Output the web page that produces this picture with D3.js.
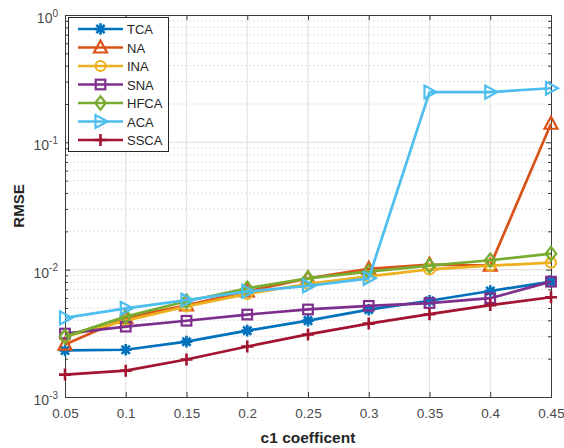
<!DOCTYPE html>
<html>
<head>
<meta charset="utf-8">
<script src="https://cdn.jsdelivr.net/npm/d3@7"></script>
<style>
  html, body { margin: 0; padding: 0; background: #fff; }
  svg { display: block; font-family: "Liberation Sans", Arial, sans-serif; }
</style>
</head>
<body>
<svg id="chart" width="564" height="448"></svg>
<script>
// c1 coefficient values on the x axis
const xValues = [0.05, 0.1, 0.15, 0.2, 0.25, 0.3, 0.35, 0.4, 0.45];
const xTickLabels = ["0.05", "0.1", "0.15", "0.2", "0.25", "0.3", "0.35", "0.4", "0.45"];
const yTickExponents = [-3, -2, -1, 0];

// RMSE per method
const seriesNames = ["TCA", "NA", "INA", "SNA", "HFCA", "ACA", "SSCA"];
const tca  = [0.00232, 0.00235, 0.00272, 0.00332, 0.00398, 0.00485, 0.00570, 0.00680, 0.00805];
const na   = [0.00258, 0.00418, 0.00525, 0.00675, 0.00855, 0.01015, 0.01095, 0.01075, 0.14000];
const ina  = [0.00298, 0.00398, 0.00515, 0.00645, 0.00775, 0.00885, 0.01005, 0.01075, 0.01135];
const sna  = [0.00315, 0.00357, 0.00397, 0.00444, 0.00487, 0.00520, 0.00547, 0.00597, 0.00805];
const hfca = [0.00298, 0.00428, 0.00565, 0.00715, 0.00855, 0.00965, 0.01075, 0.01185, 0.01335];
const aca  = [0.00418, 0.00497, 0.00576, 0.00675, 0.00745, 0.00855, 0.24800, 0.24800, 0.26600];
const ssca = [0.00150, 0.00161, 0.00197, 0.00249, 0.00310, 0.00377, 0.00447, 0.00527, 0.00607];

const seriesValues = [tca, na, ina, sna, hfca, aca, ssca];
const seriesColors = ["#0072BD", "#D95319", "#EDB120", "#7E2F8E", "#77AC30", "#4DBEEE", "#A2142F"];
const seriesMarkers = ["asterisk", "triangleUp", "circle", "square", "diamond", "triangleRight", "plus"];

const svg = d3.select("#chart");
const plotLeft = 65, plotRight = 551, plotTop = 15, plotBottom = 397;

const x = d3.scaleLinear().domain([0.05, 0.45]).range([plotLeft, plotRight]);
const y = d3.scaleLog().domain([1e-3, 1]).range([plotBottom, plotTop]);

const axisColor = "#3a3a3a";
const textColor = "#4a4a4a";

// minor grid (dotted) at 2..9 x each decade
const minorVals = [];
for (let e = -3; e < 0; e++) {
  for (let m = 2; m <= 9; m++) minorVals.push(m * Math.pow(10, e));
}
const grid = svg.append("g");
grid.selectAll("line.minor").data(minorVals).join("line")
  .attr("x1", plotLeft).attr("x2", plotRight)
  .attr("y1", d => y(d)).attr("y2", d => y(d))
  .attr("stroke", "#d6d6d6").attr("stroke-width", 1)
  .attr("stroke-dasharray", "1.5,2.5");
// major grid
grid.selectAll("line.majy").data(yTickExponents.slice(1, 3)).join("line")
  .attr("x1", plotLeft).attr("x2", plotRight)
  .attr("y1", d => y(Math.pow(10, d))).attr("y2", d => y(Math.pow(10, d)))
  .attr("stroke", "#e3e3e3").attr("stroke-width", 1.2);
grid.selectAll("line.majx").data(xValues.slice(1, -1)).join("line")
  .attr("x1", d => x(d)).attr("x2", d => x(d))
  .attr("y1", plotTop).attr("y2", plotBottom)
  .attr("stroke", "#e3e3e3").attr("stroke-width", 1.2);

// axes: bottom/top with inward ticks
const xAxisB = d3.axisBottom(x).tickValues(xValues).tickSize(-5).tickFormat((d, i) => xTickLabels[i]).tickPadding(11);
const gxb = svg.append("g").attr("transform", `translate(0,${plotBottom})`).call(xAxisB);
svg.append("g").attr("transform", `translate(0,${plotTop})`)
  .call(d3.axisTop(x).tickValues(xValues).tickSize(-5).tickFormat(""));
svg.append("g").attr("transform", `translate(${plotLeft},0)`)
  .call(d3.axisLeft(y).tickValues(yTickExponents.map(e => Math.pow(10, e))).tickSize(-5).tickFormat(""));
svg.append("g").attr("transform", `translate(${plotRight},0)`)
  .call(d3.axisRight(y).tickValues(yTickExponents.map(e => Math.pow(10, e))).tickSize(-5).tickFormat(""));
// minor y ticks
svg.append("g").attr("transform", `translate(${plotLeft},0)`)
  .call(d3.axisLeft(y).tickValues(minorVals).tickSize(-3).tickFormat(""));
svg.append("g").attr("transform", `translate(${plotRight},0)`)
  .call(d3.axisRight(y).tickValues(minorVals).tickSize(-3).tickFormat(""));

svg.selectAll(".domain").attr("stroke", axisColor).attr("stroke-width", 1);
svg.selectAll(".tick line").attr("stroke", axisColor).attr("stroke-width", 1);
gxb.selectAll(".tick text").attr("fill", textColor).attr("font-size", 13.5)
  .attr("font-family", "'Liberation Sans', Arial, sans-serif");

// y tick labels as 10 with superscript exponent
const ylab = svg.append("g");
yTickExponents.forEach(e => {
  const t = ylab.append("text")
    .attr("x", plotLeft - 7).attr("y", y(Math.pow(10, e)) + 8)
    .attr("text-anchor", "end").attr("fill", textColor).attr("font-size", 14);
  t.append("tspan").text("10");
  t.append("tspan").attr("dy", -6.5).attr("font-size", 10).text(String(e));
});

// axis titles
svg.append("text").attr("x", (plotLeft + plotRight) / 2).attr("y", 443)
  .attr("text-anchor", "middle").attr("font-weight", "bold").attr("font-size", 15.5)
  .attr("fill", "#262626").text("c1 coefficent");
svg.append("text").attr("transform", `translate(24,${(plotTop + plotBottom) / 2}) rotate(-90)`)
  .attr("text-anchor", "middle").attr("font-weight", "bold").attr("font-size", 15)
  .attr("fill", "#262626").text("RMSE");

// marker shapes
function drawMarker(g, type, color, cx, cy) {
  const s = 6;
  const common = el => el.attr("stroke", color).attr("stroke-width", 2.2).attr("fill", "none");
  switch (type) {
    case "asterisk": {
      const a = 5.8, b = 4.1;
      const path = `M${cx - a},${cy}L${cx + a},${cy}M${cx},${cy - a}L${cx},${cy + a}` +
        `M${cx - b},${cy - b}L${cx + b},${cy + b}M${cx - b},${cy + b}L${cx + b},${cy - b}`;
      common(g.append("path").attr("d", path)).attr("stroke-width", 2.6);
      g.append("circle").attr("cx", cx).attr("cy", cy).attr("r", 3).attr("fill", color);
      break;
    }
    case "triangleUp":
      common(g.append("path").attr("d",
        `M${cx},${cy - 7}L${cx + 6.5},${cy + 5}L${cx - 6.5},${cy + 5}Z`));
      break;
    case "triangleRight":
      common(g.append("path").attr("d",
        `M${cx + 7},${cy}L${cx - 5},${cy - 6.5}L${cx - 5},${cy + 6.5}Z`));
      break;
    case "circle":
      common(g.append("circle").attr("cx", cx).attr("cy", cy).attr("r", 5));
      break;
    case "square":
      common(g.append("rect").attr("x", cx - 4.8).attr("y", cy - 4.8).attr("width", 9.6).attr("height", 9.6));
      break;
    case "diamond":
      common(g.append("path").attr("d",
        `M${cx},${cy - 6.8}L${cx + 5.3},${cy}L${cx},${cy + 6.8}L${cx - 5.3},${cy}Z`));
      break;
    case "plus":
      common(g.append("path").attr("d",
        `M${cx - s},${cy}L${cx + s},${cy}M${cx},${cy - s}L${cx},${cy + s}`)).attr("stroke-width", 2.6);
      break;
  }
}

// series lines and markers
const line = d3.line().x((d, i) => x(xValues[i])).y(d => y(d));
const plot = svg.append("g");
seriesValues.forEach((vals, k) => {
  const g = plot.append("g");
  g.append("path").datum(vals).attr("d", line)
    .attr("fill", "none").attr("stroke", seriesColors[k]).attr("stroke-width", 2.7)
    .attr("stroke-linejoin", "round");
  vals.forEach((v, i) => drawMarker(g, seriesMarkers[k], seriesColors[k], x(xValues[i]), y(v)));
});

// legend
const lg = svg.append("g");
lg.append("rect").attr("x", 68.5).attr("y", 17.5).attr("width", 100).attr("height", 134)
  .attr("fill", "#fff").attr("stroke", "#262626").attr("stroke-width", 1);
seriesNames.forEach((name, k) => {
  const yy = 29 + k * 18.5;
  const g = lg.append("g");
  g.append("line").attr("x1", 78).attr("x2", 123).attr("y1", yy).attr("y2", yy)
    .attr("stroke", seriesColors[k]).attr("stroke-width", 2.7);
  drawMarker(g, seriesMarkers[k], seriesColors[k], 100.5, yy);
  g.append("text").attr("x", 127).attr("y", yy + 5).attr("font-size", 13)
    .attr("fill", "#262626").text(name);
});
</script>
</body>
</html>
